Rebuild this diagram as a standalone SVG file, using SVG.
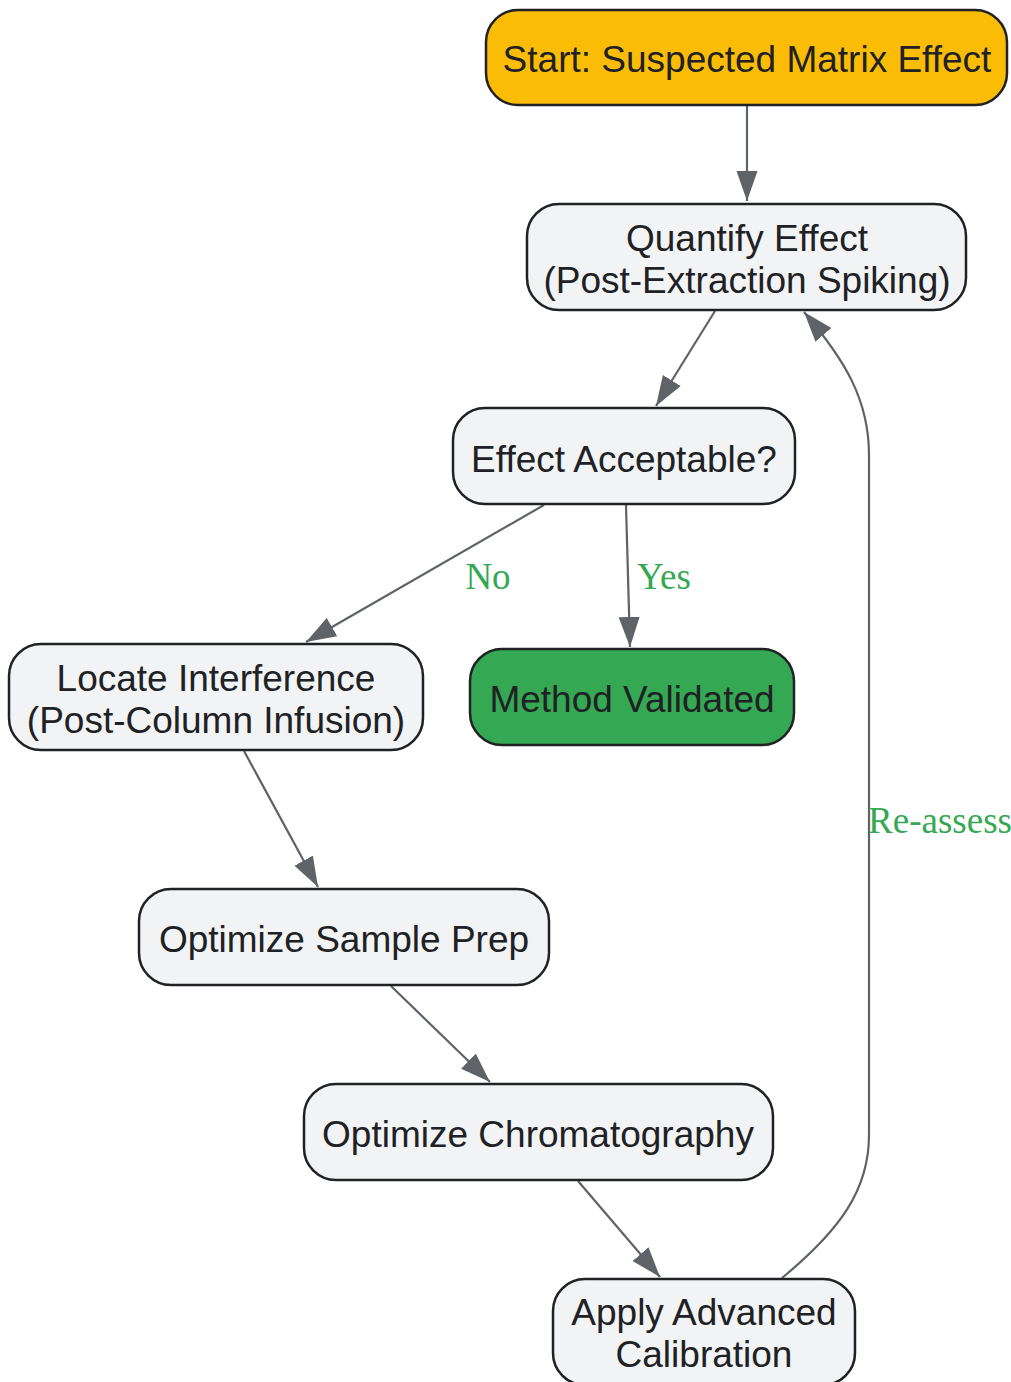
<svg xmlns="http://www.w3.org/2000/svg" width="1011" height="1382" viewBox="0 0 1011 1382">
<defs>
<marker id="arr" markerUnits="userSpaceOnUse" markerWidth="30" markerHeight="22" refX="30" refY="11" orient="auto">
<path d="M0,0.5 L30,11 L0,21.5 z" fill="#5f6368"/>
</marker>
<style>
.n{stroke:#202124;stroke-width:2.5;fill:#f1f3f4}
.t{font-family:"Liberation Sans",Arial,sans-serif;font-size:37px;fill:#202124;text-anchor:middle}
.e{fill:none;stroke:#5f6368;stroke-width:2.2}
.l{font-family:"Liberation Serif","Times New Roman",serif;font-size:37px;fill:#34a853;text-anchor:middle}
</style>
</defs>
<rect width="1011" height="1382" fill="#fff"/>
<g id="edges">
<path class="e" d="M747,105 L747,201" marker-end="url(#arr)"/>
<path class="e" d="M715,311 L656,406" marker-end="url(#arr)"/>
<path class="e" d="M544,505 L306,642" marker-end="url(#arr)"/>
<path class="e" d="M626,505 L630,647" marker-end="url(#arr)"/>
<path class="e" d="M244,751 L318,887" marker-end="url(#arr)"/>
<path class="e" d="M391,986 L490,1082" marker-end="url(#arr)"/>
<path class="e" d="M578,1181 L660,1277" marker-end="url(#arr)"/>
<path class="e" d="M782,1278 C840,1230 869,1190 869,1135 L869,455 C869,400 845,360 804,312" marker-end="url(#arr)"/>
<text class="l" x="488" y="589">No</text>
<text class="l" x="664" y="589">Yes</text>
<text class="l" x="940" y="833">Re-assess</text>
</g>
<g id="start">
<rect class="n" x="486" y="10" width="521" height="95" rx="32" fill="#fbbc05" style="fill:#fbbc05"/>
<text class="t" x="747" y="72">Start: Suspected Matrix Effect</text>
</g>
<g id="quantify">
<rect class="n" x="527" y="204" width="439" height="106" rx="32"/>
<text class="t" x="747" y="251">Quantify Effect</text>
<text class="t" x="747" y="293">(Post-Extraction Spiking)</text>
</g>
<g id="acceptable">
<rect class="n" x="453" y="408" width="342" height="96" rx="32"/>
<text class="t" x="624" y="472">Effect Acceptable?</text>
</g>
<g id="validated">
<rect class="n" x="470" y="649" width="324" height="96" rx="32" style="fill:#34a853"/>
<text class="t" x="632" y="712">Method Validated</text>
</g>
<g id="locate">
<rect class="n" x="9" y="644" width="414" height="106" rx="32"/>
<text class="t" x="216" y="691">Locate Interference</text>
<text class="t" x="216" y="733">(Post-Column Infusion)</text>
</g>
<g id="sampleprep">
<rect class="n" x="139" y="889" width="410" height="96" rx="32"/>
<text class="t" x="344" y="952">Optimize Sample Prep</text>
</g>
<g id="chromatography">
<rect class="n" x="304" y="1084" width="469" height="96" rx="32"/>
<text class="t" x="538" y="1147">Optimize Chromatography</text>
</g>
<g id="calibration">
<rect class="n" x="553" y="1279" width="302" height="106" rx="32"/>
<text class="t" x="704" y="1325">Apply Advanced</text>
<text class="t" x="704" y="1367">Calibration</text>
</g>
</svg>
